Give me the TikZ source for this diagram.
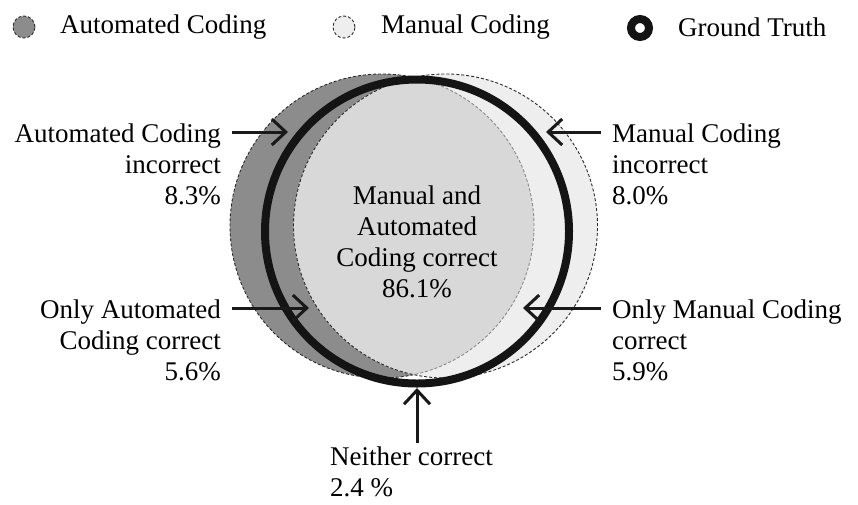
\documentclass[tikz,border=0pt]{standalone}
\usepackage{fontspec}
\setmainfont{Liberation Serif}
\usetikzlibrary{arrows.meta}
\definecolor{autofill}{HTML}{8C8C8C}
\definecolor{manfill}{HTML}{EDEEED}
\definecolor{bothfill}{HTML}{D8D8D8}
\definecolor{edgedark}{HTML}{2A2A2A}
\definecolor{edgelight}{HTML}{8A8A8A}

\begin{document}
\begin{tikzpicture}[x=1pt,y=-1pt,
  lbl/.style={font=\fontsize{27}{31}\selectfont, inner sep=0pt},
  pointer/.style={line width=3pt, draw=black!90, -{Straight Barb[length=14pt,width=26pt]}},
  outline/.style={line width=0.9pt, dash pattern=on 3pt off 2pt},
  truth/.style={line width=8pt, draw=black!92}]
\useasboundingbox (0,0) rectangle (858,504);

% ---------- legend ----------
\node[circle, minimum size=22pt, inner sep=0pt, fill=autofill, draw=edgedark, outline] (legauto) at (24,27) {};
\node[lbl, anchor=west] (legautotxt) at (60,27) {Automated Coding};
\node[circle, minimum size=22pt, inner sep=0pt, fill=manfill, draw=edgedark, outline] (legman) at (344,27) {};
\node[lbl, anchor=west] (legmantxt) at (381,27) {Manual Coding};
\node[circle, minimum size=18pt, inner sep=0pt, truth] (legtruth) at (640,28) {};
\node[lbl, anchor=west] (legtruthtxt) at (678,27) {Ground Truth};

% ---------- sets ----------
\coordinate (cauto) at (382,226);
\coordinate (cman) at (445.5,226);
\coordinate (ctruth) at (417,231.5);

% automated coding
\fill[autofill] (cauto) circle[radius=152pt];
\draw[outline, draw=edgedark] (cauto) circle[radius=152pt];
% manual coding
\fill[manfill] (cman) circle[radius=152pt];
% both correct (intersection)
\begin{scope}
  \clip (cauto) circle[radius=152pt];
  \fill[bothfill] (cman) circle[radius=152pt];
\end{scope}
\begin{scope}
  \clip (cman) circle[radius=152pt];
  \draw[outline, draw=edgelight] (cauto) circle[radius=152pt];
\end{scope}
\draw[outline, draw=edgedark] (cman) circle[radius=152pt];
% ground truth
\draw[truth] (ctruth) circle[radius=152pt];

% ---------- labels ----------
\node[lbl, align=center] (both) at (417,242)
  {Manual and\\Automated\\Coding correct\\86.1\%};
\node[lbl, align=right, anchor=east] (autowrong) at (221,164)
  {Automated Coding\\incorrect\\8.3\%};
\node[lbl, align=right, anchor=east] (autoonly) at (221,340)
  {Only Automated\\Coding correct\\5.6\%};
\node[lbl, align=left, anchor=west] (manwrong) at (612,164)
  {Manual Coding\\incorrect\\8.0\%};
\node[lbl, align=left, anchor=west] (manonly) at (612,340)
  {Only Manual Coding\\correct\\5.9\%};
\node[lbl, align=left, anchor=west] (neither) at (330,472)
  {Neither correct\\2.4 \%};

% ---------- pointers ----------
\coordinate (autowrongtail) at (232,132);
\coordinate (autowrongtip) at (288,132);
\coordinate (autoonlytail) at (232,308);
\coordinate (autoonlytip) at (309,308);
\coordinate (manwrongtail) at (601,132);
\coordinate (manwrongtip) at (546,132);
\coordinate (manonlytail) at (601,308);
\coordinate (manonlytip) at (523,308);
\coordinate (neithertail) at (417,443);
\coordinate (neithertip) at (417,388);

\draw[pointer] (autowrongtail) -- (autowrongtip);
\draw[pointer] (autoonlytail) -- (autoonlytip);
\draw[pointer] (manwrongtail) -- (manwrongtip);
\draw[pointer] (manonlytail) -- (manonlytip);
\draw[pointer] (neithertail) -- (neithertip);
\end{tikzpicture}
\end{document}
